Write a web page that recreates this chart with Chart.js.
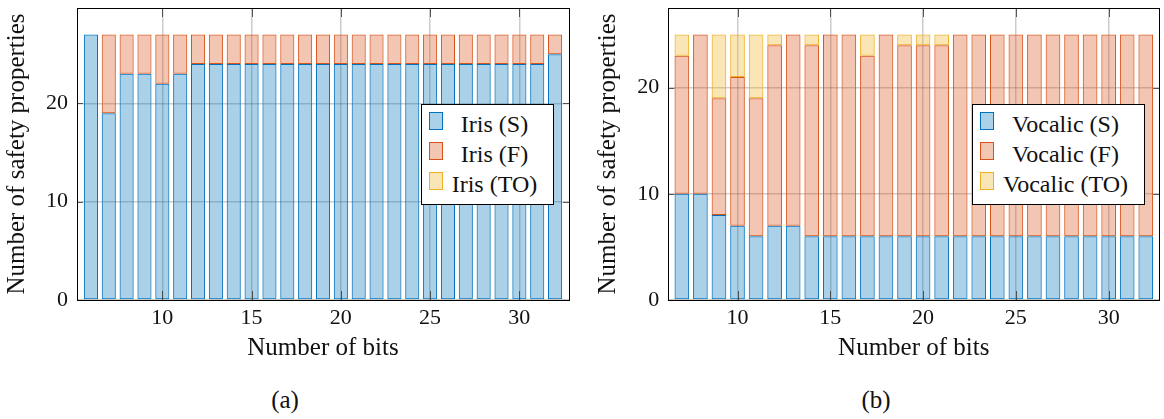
<!DOCTYPE html>
<html>
<head>
<meta charset="utf-8">
<script src="https://cdn.jsdelivr.net/npm/chart.js@4.4.1/dist/chart.umd.min.js"></script>
<style>
  html, body { margin: 0; padding: 0; background: #fff; }
  #page { position: relative; width: 1164px; height: 419px; overflow: hidden; font-family: "Liberation Serif", "DejaVu Serif", serif; }
  .panel { position: absolute; top: 0; }
  .legend { position: absolute; background: #fff; border: 1px solid #000; box-sizing: border-box; }
  .legend .row { position: absolute; left: 0; right: 0; height: 30px; }
  .legend .sw { position: absolute; left: 7px; top: 3px; width: 14px; height: 18px; box-sizing: border-box; border: 1px solid; }
  .legend .tx { position: absolute; left: 25px; right: 11px; top: 0; height: 30px; line-height: 30px; text-align: center; font-size: 24px; color: #111; white-space: nowrap; }
  .caption { position: absolute; top: 386px; font-size: 25px; color: #111; transform: translateX(-50%); }
</style>
</head>
<body>
<div id="page">
  <div class="panel" style="left:0px"><canvas id="chartA" width="580" height="370"></canvas></div>
  <div class="panel" style="left:590px"><canvas id="chartB" width="574" height="370"></canvas></div>
  <div id="legendA" class="legend" style="left:421px; top:104px; width:133px; height:101px;"></div>
  <div id="legendB" class="legend" style="left:972px; top:104px; width:173px; height:101px;"></div>
  <div class="caption" style="left:285px">(a)</div>
  <div class="caption" style="left:876px">(b)</div>
</div>
<script>
// ---- Iris: results per bit width (S = safe, F = falsified, TO = timeout)
const irisBits = [6, 7, 8, 9, 10, 11, 12, 13, 14, 15, 16, 17, 18, 19, 20, 21, 22, 23, 24, 25, 26, 27, 28, 29, 30, 31, 32];
const irisS  = [27, 19, 23, 23, 22, 23, 24, 24, 24, 24, 24, 24, 24, 24, 24, 24, 24, 24, 24, 24, 24, 24, 24, 24, 24, 24, 25];
const irisF  = [0, 8, 4, 4, 5, 4, 3, 3, 3, 3, 3, 3, 3, 3, 3, 3, 3, 3, 3, 3, 3, 3, 3, 3, 3, 3, 2];
const irisTO = [0, 0, 0, 0, 0, 0, 0, 0, 0, 0, 0, 0, 0, 0, 0, 0, 0, 0, 0, 0, 0, 0, 0, 0, 0, 0, 0];

// ---- Vocalic: results per bit width
const vocalicBits = [7, 8, 9, 10, 11, 12, 13, 14, 15, 16, 17, 18, 19, 20, 21, 22, 23, 24, 25, 26, 27, 28, 29, 30, 31, 32];
const vocalicS  = [10, 10, 8, 7, 6, 7, 7, 6, 6, 6, 6, 6, 6, 6, 6, 6, 6, 6, 6, 6, 6, 6, 6, 6, 6, 6];
const vocalicF  = [13, 15, 11, 14, 13, 17, 18, 18, 19, 19, 17, 19, 18, 18, 18, 19, 19, 19, 19, 19, 19, 19, 19, 19, 19, 19];
const vocalicTO = [2, 0, 6, 4, 6, 1, 0, 1, 0, 0, 2, 0, 1, 1, 1, 0, 0, 0, 0, 0, 0, 0, 0, 0, 0, 0];

const xTicks = [10, 15, 20, 25, 30];
const yTicks = [0, 10, 20];

const SERIF = '"Liberation Serif", "DejaVu Serif", serif';
const palette = {
  S:  { fill: 'rgba(0,114,189,0.33)',  line: 'rgb(0,114,189)' },
  F:  { fill: 'rgba(217,83,25,0.33)',  line: 'rgb(217,83,25)' },
  TO: { fill: 'rgba(237,177,32,0.33)', line: 'rgb(237,177,32)' }
};

function series(bits, vals) {
  return bits.map((b, i) => ({ x: b, y: vals[i] }));
}

function makeDatasets(name, bits, s, f, to) {
  return [
    ['S', s], ['F', f], ['TO', to]
  ].map(([k, vals]) => ({
    label: name + ' (' + k + ')',
    data: series(bits, vals),
    backgroundColor: palette[k].fill,
    borderColor: palette[k].line,
    borderWidth: 1,
    borderSkipped: false,
    categoryPercentage: 1.0,
    barPercentage: 0.79
  }));
}

// frame around the plot area plus inward tick marks on all four sides
const framePlugin = {
  id: 'frame',
  afterDraw(chart) {
    const { ctx, chartArea: a, scales } = chart;
    ctx.save();
    ctx.strokeStyle = 'rgba(60,60,60,0.85)';
    ctx.lineWidth = 1;
    ctx.beginPath();
    xTicks.forEach(v => {
      const px = Math.round(scales.x.getPixelForValue(v)) + 0.5;
      ctx.moveTo(px, a.bottom); ctx.lineTo(px, a.bottom - 9);
      ctx.moveTo(px, a.top); ctx.lineTo(px, a.top + 9);
    });
    yTicks.forEach(v => {
      const py = Math.round(scales.y.getPixelForValue(v)) + 0.5;
      ctx.moveTo(a.left, py); ctx.lineTo(a.left + 6, py);
      ctx.moveTo(a.right, py); ctx.lineTo(a.right - 6, py);
    });
    ctx.stroke();
    ctx.strokeStyle = '#000';
    ctx.strokeRect(Math.round(a.left) + 0.5, Math.round(a.top) + 0.5,
                   Math.round(a.right - a.left), Math.round(a.bottom - a.top));
    ctx.restore();
  }
};

function makeChart(id, datasets, opts) {
  return new Chart(document.getElementById(id), {
    type: 'bar',
    data: { datasets },
    plugins: [framePlugin],
    options: {
      responsive: false,
      animation: false,
      layout: { padding: { top: 8, right: opts.padRight, left: 0, bottom: 0 } },
      plugins: { legend: { display: false }, tooltip: { enabled: false } },
      scales: {
        x: {
          type: 'linear',
          stacked: true,
          offset: false,
          bounds: 'data',
          min: opts.xMin,
          max: opts.xMax,
          afterFit: s => { s.height = 70; s.paddingLeft = 0; s.paddingRight = 0; },
          afterBuildTicks: s => { s.ticks = xTicks.map(v => ({ value: v })); },
          ticks: { padding: 5, color: '#111', font: { family: SERIF, size: 22 } },
          grid: { color: 'rgba(0,0,0,0.2)', lineWidth: 1.5, drawTicks: false, offset: false },
          border: { display: false },
          title: { display: true, text: 'Number of bits', color: '#111',
                   font: { family: SERIF, size: 25 }, padding: { top: 0, bottom: 7 } }
        },
        y: {
          type: 'linear',
          stacked: true,
          bounds: 'data',
          min: 0,
          max: opts.yMax,
          afterFit: s => { s.width = opts.yWidth; s.paddingTop = 0; s.paddingBottom = 0; },
          afterBuildTicks: s => { s.ticks = yTicks.map(v => ({ value: v })); },
          ticks: { padding: 9, color: '#111', font: { family: SERIF, size: 22 } },
          grid: { color: 'rgba(0,0,0,0.2)', lineWidth: 1.5, drawTicks: false },
          border: { display: false },
          title: { display: true, text: 'Number of safety properties', color: '#111',
                   font: { family: SERIF, size: 25 }, padding: { top: opts.titlePad, bottom: 0 } }
        }
      }
    }
  });
}

function buildLegend(id, datasets) {
  const box = document.getElementById(id);
  datasets.forEach((d, i) => {
    const row = document.createElement('div');
    row.className = 'row';
    row.style.top = (4 + i * 30) + 'px';
    const sw = document.createElement('div');
    sw.className = 'sw';
    sw.style.background = d.backgroundColor;
    sw.style.borderColor = d.borderColor;
    const tx = document.createElement('div');
    tx.className = 'tx';
    tx.textContent = d.label;
    row.appendChild(sw);
    row.appendChild(tx);
    box.appendChild(row);
  });
}

const dsA = makeDatasets('Iris', irisBits, irisS, irisF, irisTO);
const dsB = makeDatasets('Vocalic', vocalicBits, vocalicS, vocalicF, vocalicTO);

makeChart('chartA', dsA, { xMin: 5.22, xMax: 32.78, yMax: 29.7, yWidth: 77, padRight: 11, titlePad: 2 });
makeChart('chartB', dsB, { xMin: 6.27, xMax: 32.73, yMax: 27.5, yWidth: 78.3, padRight: 4.7, titlePad: 3 });

buildLegend('legendA', dsA);
buildLegend('legendB', dsB);
</script>
</body>
</html>
